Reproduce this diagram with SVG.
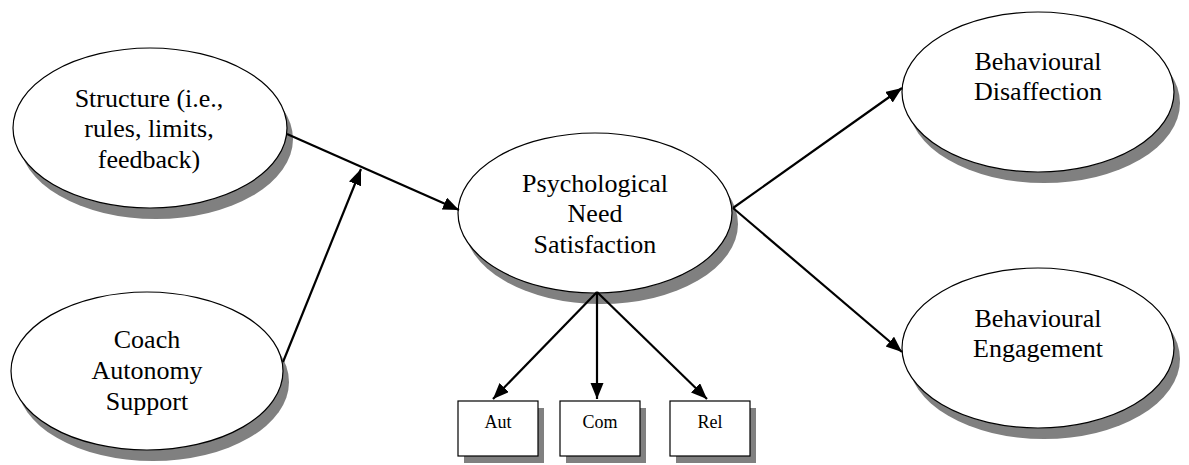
<svg xmlns="http://www.w3.org/2000/svg" width="1189" height="465" viewBox="0 0 1189 465">
<style>
.bg{fill:#ffffff}
.sh{fill:#808080;stroke:none}
.el{fill:#ffffff;stroke:#000000;stroke-width:1.2}
.bx{fill:#ffffff;stroke:#000000;stroke-width:1.2}
.t{font-family:"Liberation Serif","Times New Roman",serif;font-size:26px;fill:#000000;text-anchor:middle}
.s{font-family:"Liberation Serif","Times New Roman",serif;font-size:18px;fill:#000000;text-anchor:middle}
.ln{stroke:#000000;stroke-width:2.2;fill:none;marker-end:url(#ah)}
</style>
<defs>
<marker id="ah" markerUnits="userSpaceOnUse" markerWidth="17" markerHeight="14" refX="16" refY="6.5" orient="auto">
<path d="M0,0 L16,6.5 L0,13 Z" fill="#000000"/>
</marker>
</defs>
<rect class="bg" x="0" y="0" width="1189" height="465"/>
<g id="structure">
<ellipse class="sh" cx="156" cy="139" rx="137" ry="80"/>
<ellipse class="el" cx="150" cy="128" rx="137" ry="80"/>
<text class="t" x="149" y="107">Structure (i.e.,</text>
<text class="t" x="149" y="137">rules, limits,</text>
<text class="t" x="149" y="168">feedback)</text>
</g>
<g id="coach">
<ellipse class="sh" cx="153" cy="382" rx="136" ry="79"/>
<ellipse class="el" cx="147" cy="371" rx="136" ry="79"/>
<text class="t" x="147" y="348">Coach</text>
<text class="t" x="147" y="379">Autonomy</text>
<text class="t" x="147" y="410">Support</text>
</g>
<g id="psych">
<ellipse class="sh" cx="601" cy="224" rx="137" ry="80"/>
<ellipse class="el" cx="595" cy="213" rx="137" ry="80"/>
<text class="t" x="595" y="192">Psychological</text>
<text class="t" x="595" y="222">Need</text>
<text class="t" x="595" y="253">Satisfaction</text>
</g>
<g id="disaffection">
<ellipse class="sh" cx="1044" cy="103" rx="136" ry="80"/>
<ellipse class="el" cx="1038" cy="92" rx="136" ry="80"/>
<text class="t" x="1038" y="70">Behavioural</text>
<text class="t" x="1038" y="100">Disaffection</text>
</g>
<g id="engagement">
<ellipse class="sh" cx="1044" cy="359" rx="136" ry="80"/>
<ellipse class="el" cx="1038" cy="348" rx="136" ry="80"/>
<text class="t" x="1038" y="327">Behavioural</text>
<text class="t" x="1038" y="357">Engagement</text>
</g>
<g id="aut">
<rect class="sh" x="464" y="408" width="80" height="55"/>
<rect class="bx" x="458" y="401" width="80" height="55"/>
<text class="s" x="498" y="428">Aut</text>
</g>
<g id="com">
<rect class="sh" x="566" y="408" width="80" height="55"/>
<rect class="bx" x="560" y="401" width="80" height="55"/>
<text class="s" x="600" y="428">Com</text>
</g>
<g id="rel">
<rect class="sh" x="676" y="408" width="80" height="55"/>
<rect class="bx" x="670" y="401" width="80" height="55"/>
<text class="s" x="710" y="428">Rel</text>
</g>
<g id="connectors">
<line class="ln" x1="287" y1="134" x2="459" y2="210"/>
<line class="ln" x1="283" y1="362" x2="361" y2="169"/>
<line class="ln" x1="733" y1="208" x2="902" y2="88"/>
<line class="ln" x1="733" y1="208" x2="902" y2="352"/>
<line class="ln" x1="597" y1="292" x2="493" y2="399"/>
<line class="ln" x1="597" y1="292" x2="597" y2="399"/>
<line class="ln" x1="597" y1="292" x2="707" y2="399"/>
</g>
</svg>
